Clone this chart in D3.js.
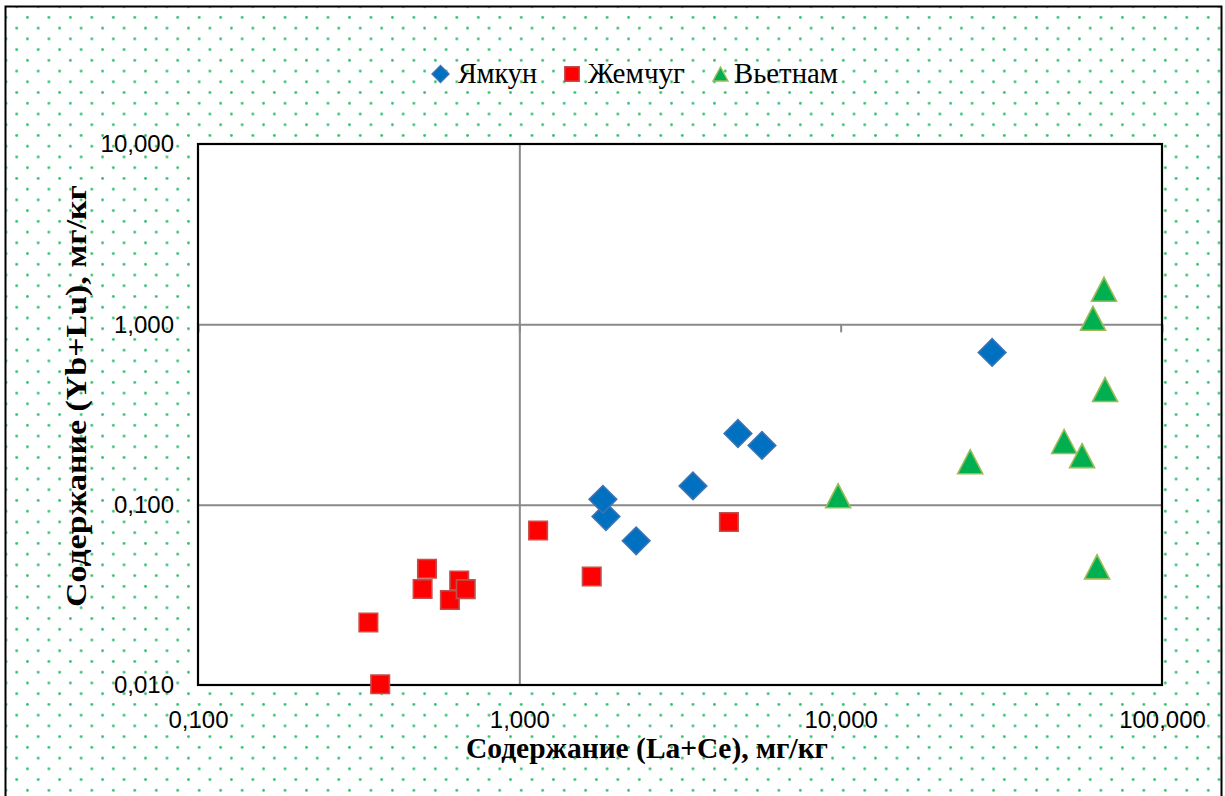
<!DOCTYPE html>
<html>
<head>
<meta charset="utf-8">
<script src="https://cdn.jsdelivr.net/npm/d3@7"></script>
<style>
  html, body { margin: 0; padding: 0; background: #ffffff; }
  svg { display: block; }
</style>
</head>
<body>
<svg id="chart" width="1225" height="796"></svg>
<script>
// (La+Ce) and (Yb+Lu) contents, mg/kg, for each deposit
const yamkunX   = [1.86, 1.82, 2.31, 3.47, 4.79, 5.69, 29.6];
const yamkunY   = [0.086, 0.107, 0.063, 0.127, 0.248, 0.213, 0.699];
const zhemchugX = [0.339, 0.369, 0.500, 0.516, 0.608, 0.650, 0.681, 1.144, 1.68, 4.49];
const zhemchugY = [0.0222, 0.0101, 0.0341, 0.0441, 0.0296, 0.0380, 0.0340, 0.0719, 0.0400, 0.0801];
const vietnamX  = [9.82, 25.3, 49.6, 56.4, 61.0, 62.8, 66.0, 66.5];
const vietnamY  = [0.112, 0.173, 0.224, 0.187, 1.08, 0.0452, 1.565, 0.435];

const seriesNames = ["Ямкун", "Жемчуг", "Вьетнам"];
const xTicks = [0.1, 1, 10, 100];
const yTicks = [0.01, 0.1, 1, 10];
const xTitle = "Содержание (La+Ce), мг/кг";
const yTitle = "Содержание (Yb+Lu), мг/кг";

const svg = d3.select("#chart");
const plot = { left: 198, top: 144, right: 1162, bottom: 685 };

const x = d3.scaleLog().domain([0.1, 100]).range([plot.left, plot.right]);
const y = d3.scaleLog().domain([0.01, 10]).range([plot.bottom, plot.top]);

const ru = d3.formatLocale({ decimal: ",", thousands: " ", grouping: [3], currency: ["", ""] });
const fmt = ru.format(".3f");

// dotted chart-area fill
const defs = svg.append("defs");
const pat = defs.append("pattern")
  .attr("id", "dots")
  .attr("patternUnits", "userSpaceOnUse")
  .attr("x", 16.7 - 5.37).attr("y", 6.7 - 5.37)
  .attr("width", 21.47).attr("height", 21.47);
pat.append("circle").attr("cx", 5.37).attr("cy", 5.37).attr("r", 1.4).attr("fill", "#2fbf6d");
pat.append("circle").attr("cx", 16.1).attr("cy", 16.1).attr("r", 1.4).attr("fill", "#2fbf6d");

svg.append("rect")
  .attr("x", 5.5).attr("y", 6.5)
  .attr("width", 1216).attr("height", 820)
  .attr("fill", "url(#dots)")
  .attr("stroke", "#000").attr("stroke-width", 2);

// plot area
svg.append("rect")
  .attr("x", plot.left).attr("y", plot.top)
  .attr("width", plot.right - plot.left).attr("height", plot.bottom - plot.top)
  .attr("fill", "#fff");

// horizontal gridlines
svg.append("g")
  .attr("transform", `translate(${plot.left},0)`)
  .call(d3.axisLeft(y).tickValues([0.1, 1]).tickSize(-(plot.right - plot.left)).tickFormat(""))
  .call(g => g.select(".domain").remove())
  .call(g => g.selectAll(".tick line").attr("stroke", "#898989").attr("stroke-width", 2));

// vertical axis crossing at 1
svg.append("g")
  .attr("transform", `translate(${x(1)},0)`)
  .call(d3.axisLeft(y).tickValues([]).tickSizeOuter(0))
  .call(g => g.select(".domain").attr("stroke", "#898989").attr("stroke-width", 2));

// horizontal axis crossing at 1
svg.append("g")
  .attr("transform", `translate(0,${y(1)})`)
  .call(d3.axisBottom(x).tickValues(xTicks).tickSize(8).tickSizeOuter(0).tickFormat(""))
  .call(g => g.select(".domain").remove())
  .call(g => g.selectAll(".tick line").attr("stroke", "#898989").attr("stroke-width", 2));

// plot border
svg.append("rect")
  .attr("x", plot.left).attr("y", plot.top)
  .attr("width", plot.right - plot.left).attr("height", plot.bottom - plot.top)
  .attr("fill", "none").attr("stroke", "#000").attr("stroke-width", 2.2);

// tick labels
const tickFont = "'Liberation Sans', Arial, sans-serif";
svg.append("g")
  .attr("transform", `translate(${plot.left},0)`)
  .call(d3.axisLeft(y).tickValues(yTicks).tickSize(0).tickPadding(24).tickFormat(fmt))
  .call(g => g.select(".domain").remove())
  .call(g => g.selectAll("text")
    .attr("font-family", tickFont).attr("font-size", 24).attr("fill", "#000"));

svg.append("g")
  .attr("transform", `translate(0,${plot.bottom})`)
  .call(d3.axisBottom(x).tickValues(xTicks).tickSize(0).tickPadding(26).tickFormat(fmt))
  .call(g => g.select(".domain").remove())
  .call(g => g.selectAll("text")
    .attr("font-family", tickFont).attr("font-size", 24).attr("fill", "#000"));

// axis titles
const titleFont = "'Liberation Serif', 'Times New Roman', serif";
svg.append("text")
  .attr("x", 647).attr("y", 758)
  .attr("text-anchor", "middle")
  .attr("font-family", titleFont).attr("font-weight", "bold").attr("font-size", 29)
  .attr("textLength", 362).attr("lengthAdjust", "spacingAndGlyphs")
  .text(xTitle);

svg.append("text")
  .attr("transform", "translate(86,396) rotate(-90)")
  .attr("text-anchor", "middle")
  .attr("font-family", titleFont).attr("font-weight", "bold").attr("font-size", 29)
  .attr("textLength", 422).attr("lengthAdjust", "spacingAndGlyphs")
  .text(yTitle);

// marker shapes
const diamond = d3.symbol().type(d3.symbolSquare).size(19.5 * 19.5);
const square = d3.symbol().type(d3.symbolSquare).size(18.5 * 18.5);
function triPath(w, h) {
  return `M0,${-h / 2}L${w / 2},${h / 2}L${-w / 2},${h / 2}Z`;
}

const series = [
  { name: seriesNames[0], xs: yamkunX, ys: yamkunY, fill: "#0070c0", stroke: "#3d73b3",
    path: () => diamond(), rot: 45 },
  { name: seriesNames[1], xs: zhemchugX, ys: zhemchugY, fill: "#ff0000", stroke: "#c0504d",
    path: () => square(), rot: 0 },
  { name: seriesNames[2], xs: vietnamX, ys: vietnamY, fill: "#00b050", stroke: "#9bbb59",
    path: () => triPath(25, 24), rot: 0 }
];

series.forEach(s => {
  const pts = s.xs.map((v, i) => [v, s.ys[i]]);
  svg.append("g").selectAll("path")
    .data(pts)
    .join("path")
    .attr("d", s.path)
    .attr("transform", d => `translate(${x(d[0])},${y(d[1])}) rotate(${s.rot})`)
    .attr("fill", s.fill)
    .attr("stroke", s.stroke)
    .attr("stroke-width", 1.6);
});

// legend
const legendMarks = [
  { d: d3.symbol().type(d3.symbolSquare).size(12 * 12)(), rot: 45, cx: 440.5, tx: 458, len: 79 },
  { d: d3.symbol().type(d3.symbolSquare).size(14.5 * 14.5)(), rot: 0, cx: 572, tx: 588, len: 97 },
  { d: triPath(15, 14), rot: 0, cx: 720.5, tx: 734, len: 104 }
];
const leg = svg.append("g");
legendMarks.forEach((m, i) => {
  leg.append("path")
    .attr("d", m.d)
    .attr("transform", `translate(${m.cx},74) rotate(${m.rot})`)
    .attr("fill", series[i].fill)
    .attr("stroke", series[i].stroke)
    .attr("stroke-width", 1.4);
  leg.append("text")
    .attr("x", m.tx).attr("y", 83)
    .attr("font-family", titleFont).attr("font-size", 30)
    .attr("textLength", m.len).attr("lengthAdjust", "spacingAndGlyphs")
    .text(series[i].name);
});
</script>
</body>
</html>
